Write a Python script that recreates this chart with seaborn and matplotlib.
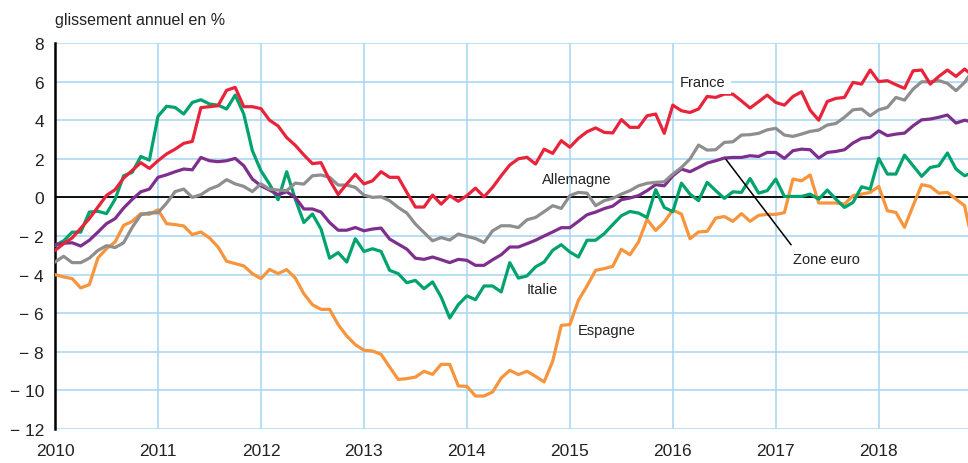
import matplotlib
matplotlib.use("Agg")
import matplotlib.pyplot as plt
import seaborn as sns
import numpy as np
import pandas as pd

# monthly values, Jan 2010 -> Dec 2018 (last one falls outside the frame)
france = [-2.75, -2.4, -2.1, -1.6, -1.1, -0.5, 0.1, 0.4, 1.0, 1.4,
          1.8, 1.5, 1.9, 2.25, 2.5, 2.8, 2.9, 4.65, 4.7, 4.75,
          5.55, 5.7, 4.7, 4.7, 4.6, 4.0, 3.7, 3.1, 2.7, 2.2,
          1.75, 1.8, 0.9, 0.15, 0.7, 1.2, 0.7, 0.86, 1.33, 1.04,
          1.04, 0.26, -0.5, -0.5, 0.12, -0.35, 0.09, -0.2, 0.09, 0.48,
          0.03, 0.52, 1.12, 1.68, 2.0, 2.08, 1.73, 2.5, 2.28, 2.94,
          2.6, 3.06, 3.4, 3.6, 3.37, 3.34, 4.03, 3.63, 3.63, 4.23,
          4.32, 3.32, 4.78, 4.49, 4.4, 4.58, 5.23, 5.18, 5.35, 5.35,
          5.0, 4.63, 4.96, 5.3, 4.92, 4.78, 5.23, 5.47, 4.52, 4.0,
          4.97, 5.13, 5.18, 5.96, 5.87, 6.6, 6.0, 6.05, 5.84, 5.65,
          6.56, 6.6, 5.87, 6.27, 6.6, 6.27, 6.65, 6.3]
allemagne = [-3.35, -3.05, -3.38, -3.38, -3.15, -2.75, -2.5, -2.6, -2.35, -1.55,
             -0.9, -0.8, -0.8, -0.3, 0.3, 0.43, 0.0, 0.14, 0.43, 0.6,
             0.92, 0.7, 0.57, 0.3, 0.7, 0.43, 0.38, 0.35, 0.74, 0.69,
             1.12, 1.16, 1.04, 0.64, 0.64, 0.52, 0.12, 0.0, 0.03, -0.17,
             -0.52, -0.81, -1.38, -1.82, -2.25, -2.08, -2.21, -1.9, -2.02, -2.13,
             -2.34, -1.73, -1.47, -1.47, -1.56, -1.16, -1.04, -0.74, -0.43, -0.57,
             0.09, 0.26, 0.22, -0.43, -0.17, -0.05, 0.17, 0.35, 0.6, 0.73,
             0.78, 0.81, 1.21, 1.55, 1.99, 2.71, 2.45, 2.47, 2.85, 2.88,
             3.23, 3.25, 3.32, 3.5, 3.58, 3.23, 3.16, 3.28, 3.42, 3.49,
             3.75, 3.83, 4.15, 4.54, 4.58, 4.23, 4.54, 4.66, 5.18, 5.04,
             5.61, 5.99, 5.99, 6.05, 5.91, 5.53, 5.96, 6.6]
zone_euro = [-2.45, -2.37, -2.35, -2.52, -2.22, -1.8, -1.36, -1.1, -0.55, -0.1,
             0.29, 0.43, 1.04, 1.17, 1.33, 1.47, 1.43, 2.07, 1.9, 1.85,
             1.9, 2.02, 1.64, 0.95, 0.6, 0.38, 0.14, 0.29, 0.0, -0.6,
             -0.6, -0.76, -1.3, -1.7, -1.7, -1.56, -1.73, -1.64, -1.59, -2.16,
             -2.42, -2.68, -3.15, -3.21, -3.09, -3.23, -3.38, -3.21, -3.26, -3.52,
             -3.52, -3.23, -2.97, -2.57, -2.57, -2.4, -2.22, -2.0, -1.79, -1.57,
             -1.57, -1.24, -0.9, -0.76, -0.58, -0.45, -0.12, -0.03, 0.09, 0.35,
             0.66, 0.6, 1.12, 1.47, 1.33, 1.55, 1.78, 1.9, 2.04, 2.07,
             2.07, 2.16, 2.12, 2.33, 2.33, 2.02, 2.42, 2.5, 2.47, 2.04,
             2.33, 2.38, 2.47, 2.82, 3.06, 3.11, 3.45, 3.2, 3.28, 3.33,
             3.71, 4.02, 4.06, 4.15, 4.27, 3.85, 4.0, 3.9]
italie = [-2.5, -2.25, -1.8, -1.8, -0.76, -0.72, -0.84, -0.1, 1.12, 1.3,
          2.12, 1.93, 4.2, 4.72, 4.66, 4.32, 4.92, 5.06, 4.84, 4.78,
          4.58, 5.3, 4.32, 2.42, 1.38, 0.69, -0.12, 1.33, -0.09, -1.3,
          -0.86, -1.64, -3.15, -2.86, -3.35, -2.14, -2.8, -2.66, -2.8, -3.78,
          -3.95, -4.42, -4.3, -4.73, -4.38, -5.16, -6.25, -5.56, -5.1, -5.3,
          -4.59, -4.59, -4.9, -3.38, -4.18, -4.07, -3.6, -3.35, -2.74, -2.45,
          -2.83, -3.09, -2.22, -2.22, -1.88, -1.41, -0.95, -0.73, -0.81, -1.04,
          0.4, -0.52, -0.74, 0.74, 0.17, -0.17, 0.78, 0.35, -0.05, 0.29,
          0.26, 0.98, 0.22, 0.35, 0.95, 0.05, 0.05, 0.05, 0.17, -0.09,
          0.38, -0.09, -0.52, -0.26, 0.55, 0.43, 2.02, 1.21, 1.21, 2.19,
          1.64, 1.09, 1.55, 1.64, 2.3, 1.47, 1.12, 1.3]
espagne = [-4.0, -4.12, -4.21, -4.69, -4.52, -3.14, -2.66, -2.31, -1.45, -1.24,
           -0.84, -0.88, -0.64, -1.36, -1.41, -1.48, -1.93, -1.79, -2.1, -2.57,
           -3.31, -3.43, -3.55, -3.95, -4.21, -3.73, -3.95, -3.74, -4.18, -4.99,
           -5.56, -5.8, -5.8, -6.59, -7.18, -7.63, -7.92, -7.96, -8.13, -8.79,
           -9.43, -9.39, -9.31, -9.01, -9.17, -8.65, -8.65, -9.77, -9.79, -10.29,
           -10.29, -10.08, -9.36, -8.96, -9.18, -9.01, -9.27, -9.56, -8.49, -6.63,
           -6.59, -5.33, -4.59, -3.78, -3.69, -3.57, -2.69, -2.97, -2.31, -1.14,
           -1.71, -1.27, -0.66, -0.86, -2.14, -1.79, -1.76, -1.07, -0.99, -1.24,
           -0.84, -1.24, -0.93, -0.88, -0.88, -0.79, 0.95, 0.86, 1.16, -0.29,
           -0.29, -0.29, -0.35, 0.09, 0.17, 0.26, 0.57, -0.69, -0.78, -1.55,
           -0.43, 0.66, 0.57, 0.22, 0.26, -0.09, -0.43, -2.5]

years = list(range(2010, 2019))
yticks = list(range(-12, 9, 2))
ytick_labels = [str(v) if v >= 0 else "\u2212 " + str(-v) for v in yticks]

series = {"Espagne": espagne, "Italie": italie, "Zone euro": zone_euro,
          "Allemagne": allemagne, "France": france}
colors = {"France": "#e8233a", "Allemagne": "#8e8e8e", "Zone euro": "#7e2f8e",
          "Italie": "#00a36c", "Espagne": "#f7943c"}

frames = []
for name, vals in series.items():
    t = 2010 + np.arange(len(vals)) / 12
    frames.append(pd.DataFrame({"annee": t, "valeur": vals, "pays": name}))
df = pd.concat(frames, ignore_index=True)

sns.set_style("white")
plt.rcParams["font.family"] = ["Liberation Sans", "DejaVu Sans"]

fig = plt.figure(figsize=(9.68, 4.64), dpi=100)
ax = fig.add_axes([55 / 968, 34 / 464, 913 / 968, 386 / 464])

sns.lineplot(data=df, x="annee", y="valeur", hue="pays",
             hue_order=list(series.keys()), palette=colors,
             linewidth=2.3, legend=False, ax=ax, zorder=3)

ax.set_xlim(2010, 2010 + 106.4 / 12)
ax.set_ylim(-12, 8)
ax.set_xticks(years)
ax.set_xticklabels([str(y) for y in years])
ax.set_yticks(yticks)
ax.set_yticklabels(ytick_labels)
ax.grid(True, color="#a6d6f2", linewidth=1.1)
ax.set_axisbelow(True)
ax.axhline(0, color="black", linewidth=1.3, zorder=2)
for s in ["top", "right", "bottom"]:
    ax.spines[s].set_visible(False)
ax.spines["left"].set_color("black")
ax.spines["left"].set_linewidth(1.8)
ax.tick_params(axis="both", length=0, labelsize=12.5, colors="#222222")
ax.tick_params(axis="y", pad=8)
ax.tick_params(axis="x", pad=10)
ax.set_xlabel("")
ax.set_ylabel("")

lab = dict(fontsize=10.5, color="#222222", zorder=4)
ax.text(2016.07, 6, "France", ha="left", va="center",
        bbox=dict(facecolor="white", edgecolor="none", pad=4), **lab)
ax.text(2014.73, 0.95, "Allemagne", ha="left", va="center", **lab)
ax.text(2014.58, -4.74, "Italie", ha="left", va="center", **lab)
ax.text(2015.08, -6.87, "Espagne", ha="left", va="center", **lab)
ax.text(2017.17, -3.17, "Zone euro", ha="left", va="center", **lab)
ax.annotate("", xy=(2016.5, 2.08), xytext=(2017.165, -2.57),
            arrowprops=dict(arrowstyle="-", color="black", lw=1.1))

fig.text(55 / 968, 1 - 21 / 464, "glissement annuel en %", ha="left",
         va="center", fontsize=11.5, color="#222222")

fig.savefig("out.png", dpi=100)
